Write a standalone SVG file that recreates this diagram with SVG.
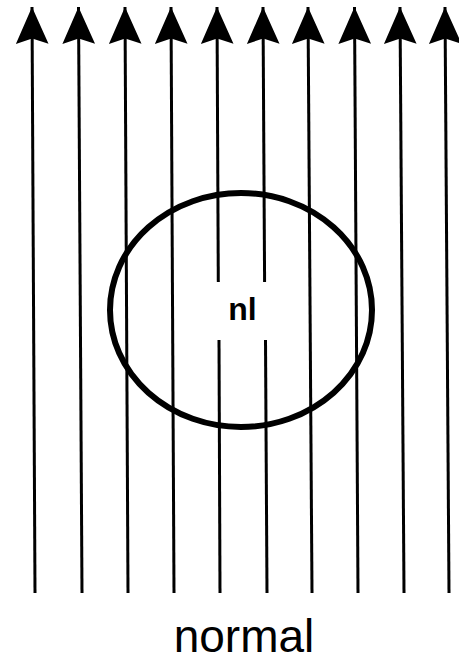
<svg xmlns="http://www.w3.org/2000/svg" width="459" height="661" viewBox="0 0 459 661">
<defs>
<style>
.ln{stroke:#000;stroke-width:3;fill:none}
.lbl{font-family:"Liberation Sans",Arial,sans-serif;fill:#000}
</style>
<marker id="ah" markerUnits="userSpaceOnUse" markerWidth="40" markerHeight="40" viewBox="-36 -17 38 34" refX="0" refY="0" orient="auto">
<path d="M0,0 L-35,-15.5 L-30,0 L-35,15.5 Z" fill="#000"/>
</marker>
</defs>
<rect width="459" height="661" fill="#fff"/>
<g id="connectors">
<line class="ln" x1="35" y1="593" x2="32" y2="7" marker-end="url(#ah)"/>
<line class="ln" x1="82" y1="593" x2="78.5" y2="7" marker-end="url(#ah)"/>
<line class="ln" x1="128" y1="593" x2="125" y2="7" marker-end="url(#ah)"/>
<line class="ln" x1="174" y1="593" x2="171" y2="7" marker-end="url(#ah)"/>
<line class="ln" x1="220" y1="593" x2="219" y2="340"/>
<line class="ln" x1="218.3" y1="282" x2="217" y2="7" marker-end="url(#ah)"/>
<line class="ln" x1="267" y1="593" x2="265.5" y2="340"/>
<line class="ln" x1="264.6" y1="282" x2="263" y2="7" marker-end="url(#ah)"/>
<line class="ln" x1="312" y1="593" x2="308" y2="7" marker-end="url(#ah)"/>
<line class="ln" x1="358" y1="593" x2="354.5" y2="7" marker-end="url(#ah)"/>
<line class="ln" x1="404" y1="593" x2="400" y2="7" marker-end="url(#ah)"/>
<line class="ln" x1="449" y1="593" x2="445" y2="7" marker-end="url(#ah)"/>
</g>
<g id="nl">
<ellipse cx="241" cy="310" rx="131" ry="117" fill="none" stroke="#000" stroke-width="6"/>
<text class="lbl" x="242.5" y="320" font-size="32" font-weight="bold" text-anchor="middle">nl</text>
</g>
<g id="caption">
<text class="lbl" x="244" y="652" font-size="46" text-anchor="middle">normal</text>
</g>
</svg>
